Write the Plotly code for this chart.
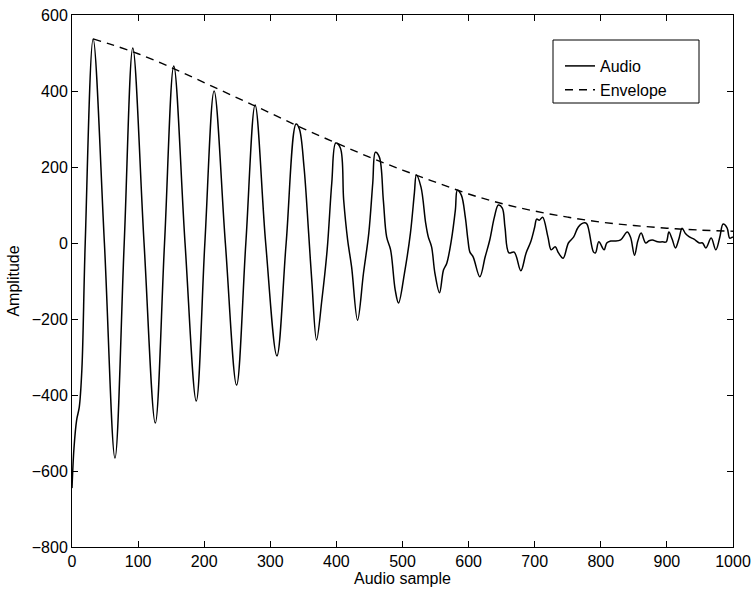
import plotly.graph_objects as go

# Audio waveform key points (sample index, amplitude)
audio_x = [0, 3, 7, 11, 15, 20, 32, 49, 65, 79, 92, 109, 126, 140, 154, 171, 188, 201, 215, 232, 249, 263,
           277, 293, 310, 324, 339, 344, 351, 358, 363, 370, 378, 386, 393, 399, 406, 411, 417, 423, 432,
           441, 449, 455, 459, 465, 471, 476, 482, 489, 494, 503, 512, 518, 521, 528, 535, 539, 544, 549,
           556, 562, 567, 574, 580, 583, 589, 595, 599, 602, 607, 617, 625, 632, 639, 645, 651, 655, 661,
           669, 679, 687, 694, 700, 703, 707, 712, 720, 725, 731, 736, 743, 751, 759, 766, 775, 779, 789,
           792, 797, 805, 809, 815, 821, 830, 840, 845, 851, 856, 861, 868, 873, 878, 886, 893, 899, 903,
           908, 913, 918, 923, 928, 934, 941, 949, 954, 959, 967, 974, 980, 985, 991, 995, 1000]
audio_y = [-645, -540, -466, -432, -330, 0, 537, 0, -566, 0, 513, 0, -474, 0, 466, 0, -416, 0, 400, 0,
           -374, 0, 363, 0, -297, 0, 313, 300, 200, 26, -105, -255, -150, -18, 158, 263, 250, 113, 8, -63,
           -203, -79, 26, 158, 239, 226, 113, 16, -18, -124, -158, -79, 26, 132, 179, 147, 53, 16, -10, -79,
           -131, -71, -53, 8, 87, 139, 126, 68, 8, -24, -37, -89, -37, 8, 68, 100, 92, 42, -26, -24, -73,
           -26, 3, 42, 63, 60, 68, 16, -18, -10, -26, -40, 0, 16, 42, 53, 50, -24, -26, 3, -18, 0, 5, 5, 8,
           29, 15, -32, 5, 26, 0, 6, 8, 3, 3, 3, 29, 10, -13, 10, 39, 25, 16, 10, 0, 0, -13, 13, -18, 15,
           50, 40, 13, 16, 22]

# Envelope curve points
env_x = [32, 60, 100, 150, 200, 250, 300, 350, 400, 450, 500, 550, 600, 650, 700, 750, 800, 850, 900, 950, 1000]
env_y = [537, 522, 498, 462, 422, 382, 342, 301, 263, 226, 192, 160, 129, 104, 84, 68, 55, 46, 39, 34, 31]

x_ticks = [0, 100, 200, 300, 400, 500, 600, 700, 800, 900, 1000]
y_ticks = [-800, -600, -400, -200, 0, 200, 400, 600]

FONT = "Liberation Sans, Arial, sans-serif"

fig = go.Figure()
fig.add_trace(go.Scatter(x=audio_x, y=audio_y, mode="lines", name="Audio",
                         line=dict(color="black", width=1.5, shape="spline", smoothing=1.0)))
fig.add_trace(go.Scatter(x=env_x, y=env_y, mode="lines", name="Envelope",
                         line=dict(color="black", width=1.4, dash="8px,6px", shape="spline")))

axis_common = dict(showline=True, linecolor="black", linewidth=1, mirror="allticks",
                   ticks="inside", ticklen=6, tickcolor="black", showgrid=False, zeroline=False,
                   automargin=False,
                   tickfont=dict(family=FONT, size=16, color="black"))

fig.update_layout(
    width=754, height=591,
    margin=dict(l=72, r=21, t=15, b=44),
    paper_bgcolor="white", plot_bgcolor="white",
    font=dict(family=FONT, size=16, color="black"),
    xaxis=dict(range=[0, 1000], tickvals=x_ticks,
               title=dict(text="Audio sample", standoff=2, font=dict(size=16)), **axis_common),
    yaxis=dict(range=[-800, 600], tickvals=y_ticks,
               title=dict(text="Amplitude", standoff=8, font=dict(size=16)), **axis_common),
    legend=dict(x=(560 - 72) / 661, y=(547 - 49) / 532, xanchor="left", yanchor="top",
                bgcolor="rgba(0,0,0,0)", borderwidth=0,
                font=dict(family=FONT, size=16), tracegroupgap=0),
    shapes=[dict(type="rect", xref="paper", yref="paper",
                 x0=(553 - 72) / 661, x1=(699 - 72) / 661,
                 y0=(547 - 103) / 532, y1=(547 - 40) / 532,
                 line=dict(color="black", width=1), fillcolor="white", layer="below")],
    showlegend=True,
)

fig.write_html("out.html")
